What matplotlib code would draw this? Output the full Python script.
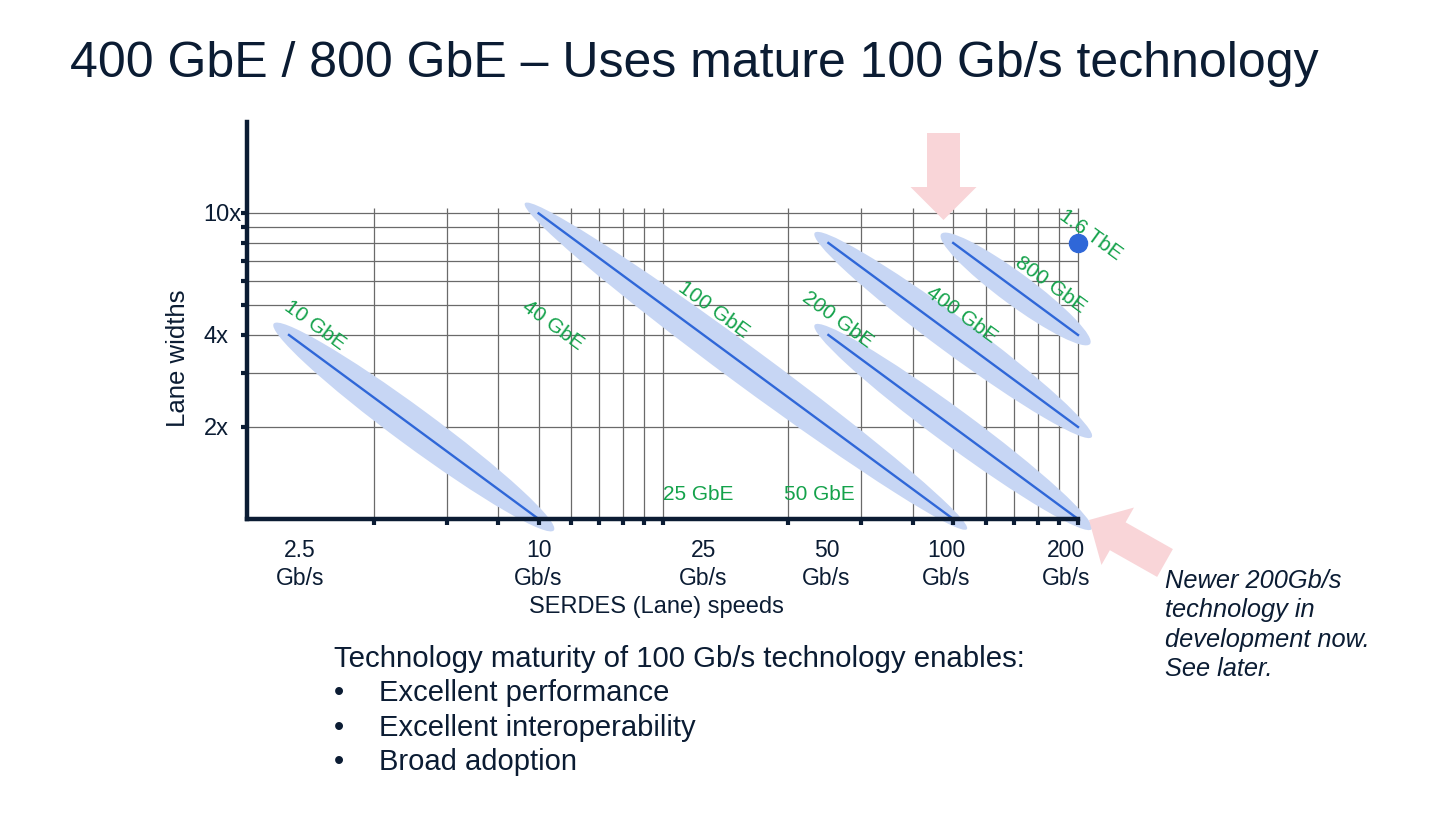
import numpy as np
import matplotlib
matplotlib.use("Agg")
import matplotlib.pyplot as plt
from matplotlib.patches import Ellipse, FancyArrow
from matplotlib.ticker import NullLocator
from matplotlib.transforms import Affine2D, IdentityTransform, blended_transform_factory

plt.rcParams['font.family'] = ['Liberation Sans', 'DejaVu Sans']

# -----------------------------
# Data
# -----------------------------
# one segment per Ethernet generation: (lane speed, lane count) start -> end
seg_speed_start = [2.5, 10, 50, 50, 100]
seg_lanes_start = [4, 10, 4, 8, 8]
seg_speed_end = [10, 100, 200, 200, 200]
seg_lanes_end = [1, 1, 1, 2, 4]

tbe_speed = 200
tbe_lanes = 8

gbe_names = ["10 GbE", "40 GbE", "100 GbE", "200 GbE", "400 GbE", "800 GbE", "1.6 TbE"]
gbe_label_x = [2.88, 10.8, 26.5, 52.7, 104.5, 172, 215]
gbe_label_y = [4.31, 4.31, 4.83, 4.48, 4.65, 5.83, 8.5]
flat_names = ["25 GbE", "50 GbE"]
flat_label_x = [24.3, 47.5]
flat_label_y = [1.2, 1.2]

x_label_values = [2.5, 10, 25, 50, 100, 200]
x_label_texts = ["2.5\nGb/s", "10\nGb/s", "25\nGb/s", "50\nGb/s", "100\nGb/s", "200\nGb/s"]
y_label_values = [2, 4, 10]
y_label_texts = ["2x", "4x", "10x"]

x_grid = [4, 6, 8, 10, 12, 14, 16, 18, 20, 40, 60, 80, 100, 120, 140, 160, 180, 200]
y_grid = [2, 3, 4, 5, 6, 7, 8, 9, 10]

note_lines = ["Newer 200Gb/s", "technology in", "development now.", "See later."]
bullets = ["Excellent performance", "Excellent interoperability", "Broad adoption"]

# -----------------------------
# Styles
# -----------------------------
NAVY = '#0b1c33'
BLUE = '#2f67d8'
HALO = '#c7d6f4'
GREEN = '#14a24b'
PINK = '#f9d5d8'
W, H = 1435, 834

fig = plt.figure(figsize=(W / 100, H / 100), dpi=100)
px = Affine2D().scale(1, -1).translate(0, H)   # pixel coords, origin top-left

ax = fig.add_axes([247 / W, 1 - 519 / H, (1078 - 247) / W, (519 - 122) / H])
ax.set_xscale('log'); ax.set_yscale('log')
ax.set_xlim(1.98, 200); ax.set_ylim(1, 19.9)
ax.xaxis.set_minor_locator(NullLocator()); ax.yaxis.set_minor_locator(NullLocator())
ax.set_xticks(x_grid, labels=[""] * len(x_grid))
ax.set_yticks(y_grid, labels=[""] * len(y_grid))
ax.tick_params(axis='both', direction='out', length=4, width=3, color=NAVY)
for s in ['top', 'right']:
    ax.spines[s].set_visible(False)
for s in ['left', 'bottom']:
    ax.spines[s].set_linewidth(3.2)
    ax.spines[s].set_color(NAVY)
    ax.spines[s].set_zorder(5)

# grid
ax.vlines(x_grid, 1, 10.4, color='#6a6a6a', lw=0.9, zorder=0, clip_on=False)
ax.hlines(y_grid, 1.98, 200, color='#6a6a6a', lw=0.9, zorder=0, clip_on=False)

# halos + lines
halo_ext = [19, 17, 17, 17, 15]
halo_half = [19, 19, 18, 18, 16]
for i in range(len(seg_speed_start)):
    p0 = ax.transData.transform((seg_speed_start[i], seg_lanes_start[i]))
    p1 = ax.transData.transform((seg_speed_end[i], seg_lanes_end[i]))
    d = p1 - p0
    length = np.hypot(*d)
    ang = np.degrees(np.arctan2(d[1], d[0]))
    e = Ellipse((p0 + p1) / 2, length + 2 * halo_ext[i], 2 * halo_half[i], angle=ang,
                transform=IdentityTransform(), fc=HALO, ec='none', clip_on=False, zorder=1)
    ax.add_artist(e)
    ax.plot([seg_speed_start[i], seg_speed_end[i]], [seg_lanes_start[i], seg_lanes_end[i]],
            color=BLUE, lw=1.7, zorder=3, clip_on=False)

ax.plot([tbe_speed], [tbe_lanes], 'o', color=BLUE, ms=13, zorder=4, clip_on=False)

# green labels
for name, lx, ly in zip(gbe_names, gbe_label_x, gbe_label_y):
    ax.text(lx, ly, name, color=GREEN, fontsize=15, rotation=-36, ha='center', va='center',
            rotation_mode='anchor', zorder=6, clip_on=False)
for name, lx, ly in zip(flat_names, flat_label_x, flat_label_y):
    ax.text(lx, ly, name, color=GREEN, fontsize=15, ha='center', va='center', zorder=6)

# tick labels
xt = blended_transform_factory(ax.transData, ax.transAxes)
x_nudge = [11, 0, 0, -2, -7, -12]
for v, t, n in zip(x_label_values, x_label_texts, x_nudge):
    ax.annotate(t, (v, 0), xycoords=xt, xytext=(n, -20), textcoords='offset pixels',
                ha='center', va='top', fontsize=16.5, color=NAVY, linespacing=1.3)
yt = blended_transform_factory(ax.transAxes, ax.transData)
y_nudge = [-18, -18, -6]
for v, t, n in zip(y_label_values, y_label_texts, y_nudge):
    ax.annotate(t, (0, v), xycoords=yt, xytext=(n, -2), textcoords='offset pixels',
                ha='right', va='center', fontsize=17, color=NAVY)

fig.text(656, 607, "SERDES (Lane) speeds", transform=px, ha='center', va='center',
         fontsize=17, color=NAVY)
fig.text(178, 358, "Lane widths", transform=px, ha='center', va='center', rotation=90,
         fontsize=18.5, color=NAVY)

# title
fig.text(70, 77, "400 GbE / 800 GbE \u2013 Uses mature 100 Gb/s technology", transform=px,
         ha='left', va='baseline', fontsize=36, color=NAVY)

# arrows
fig.add_artist(FancyArrow(943.5, 133, 0, 87, width=33, head_width=66, head_length=33,
                          length_includes_head=True, transform=px, fc=PINK, ec='none', zorder=2))
fig.add_artist(FancyArrow(1165, 563, -76, -43, width=32, head_width=66, head_length=33,
                          length_includes_head=True, transform=px, fc=PINK, ec='none', zorder=2))

# side note
for i, line in enumerate(note_lines):
    fig.text(1165, 588 + i * 29.3, line, transform=px, ha='left', va='baseline',
             fontsize=18.3, style='italic', color=NAVY)

# bottom text
fig.text(334, 667, "Technology maturity of 100 Gb/s technology enables:", transform=px,
         ha='left', va='baseline', fontsize=21.2, color=NAVY)
for i, b in enumerate(bullets):
    yb = 701 + i * 34.5
    fig.text(334, yb, "\u2022", transform=px, ha='left', va='baseline', fontsize=21, color=NAVY)
    fig.text(379, yb, b, transform=px, ha='left', va='baseline', fontsize=21, color=NAVY)

fig.savefig("out.png", dpi=100)
